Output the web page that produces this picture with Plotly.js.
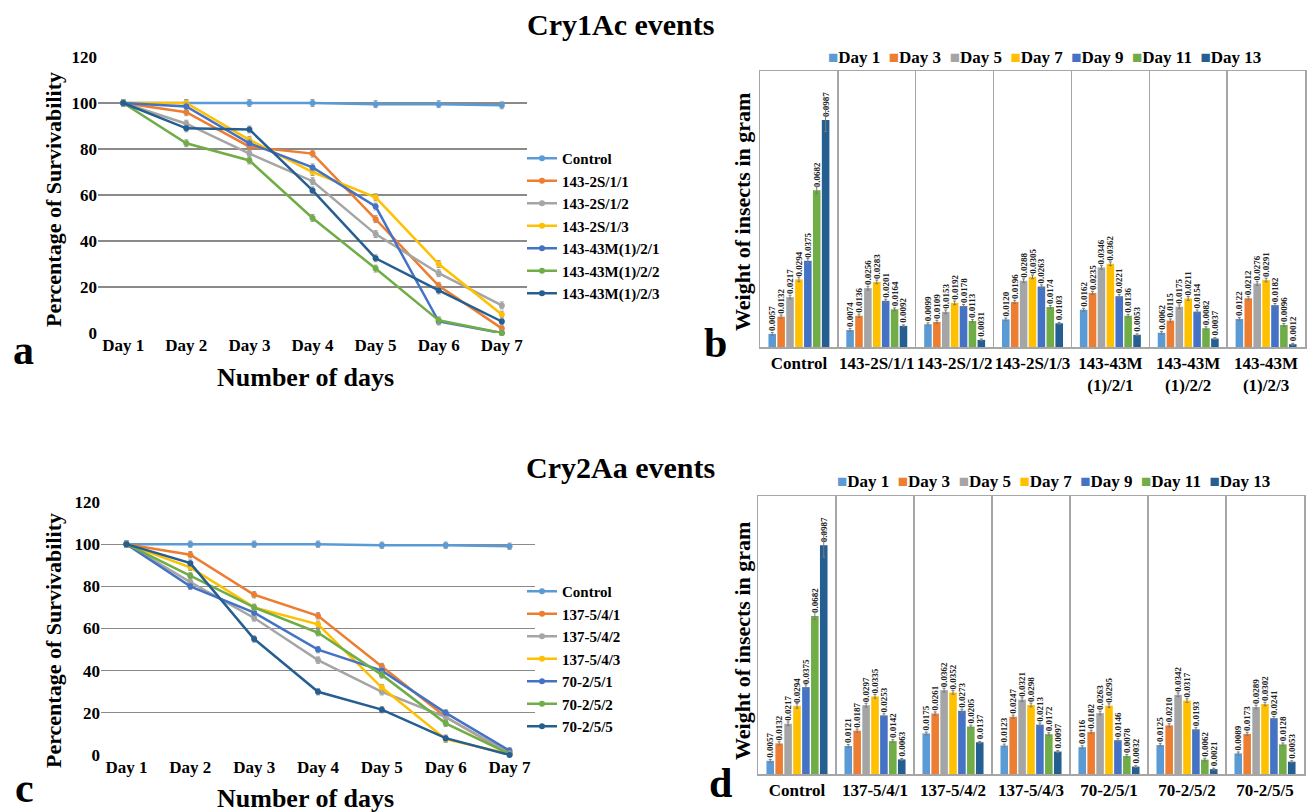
<!DOCTYPE html>
<html>
<head>
<meta charset="utf-8">
<script src="https://cdn.plot.ly/plotly-3.0.1.min.js"></script>
<style>html,body{margin:0;padding:0;background:#fff;overflow:hidden;}#chart{width:1307px;height:812px;}</style>
</head>
<body>
<div id="chart"></div>
<script>
// ---------- Survivability (line charts) ----------
const days = ['Day 1','Day 2','Day 3','Day 4','Day 5','Day 6','Day 7'];

const namesA = ['Control','143-2S/1/1','143-2S/1/2','143-2S/1/3','143-43M(1)/2/1','143-43M(1)/2/2','143-43M(1)/2/3'];
const aControl = [100, 100, 100, 100, 99.5, 99.5, 99];
const a2S_1_1  = [100, 96, 81, 78, 49.5, 20.5, 2];
const a2S_1_2  = [100, 91, 78, 66, 43, 26, 12];
const a2S_1_3  = [100, 100, 84, 70, 59, 30, 8];
const a43M_2_1 = [100, 98.5, 82.5, 72, 55, 5, 0];
const a43M_2_2 = [100, 82.5, 75, 50, 28, 5.5, 0];
const a43M_2_3 = [100, 89, 88.5, 62, 32.5, 18.5, 5];

const namesC = ['Control','137-5/4/1','137-5/4/2','137-5/4/3','70-2/5/1','70-2/5/2','70-2/5/5'];
const cControl = [100, 100, 100, 100, 99.5, 99.5, 99];
const c137_4_1 = [100, 95, 76, 66, 42, 18, 0.5];
const c137_4_2 = [100, 82, 65, 45, 30, 18, 1];
const c137_4_3 = [100, 89, 70, 62, 32, 7.5, 0.5];
const c70_5_1  = [100, 80, 67.5, 50, 40, 20, 2];
const c70_5_2  = [100, 85, 70, 58, 38, 15, 0.5];
const c70_5_5  = [100, 91, 55, 30, 21.5, 8, 0];

// ---------- Insect weight (bar charts) ----------
const dayNames = ['Day 1','Day 3','Day 5','Day 7','Day 9','Day 11','Day 13'];

const groupsB = ['Control','143-2S/1/1','143-2S/1/2','143-2S/1/3','143-43M<br>(1)/2/1','143-43M<br>(1)/2/2','143-43M<br>(1)/2/3'];
const bControl = [0.0057, 0.0132, 0.0217, 0.0294, 0.0375, 0.0682, 0.0987];
const b2S_1_1  = [0.0074, 0.0136, 0.0256, 0.0283, 0.0201, 0.0164, 0.0092];
const b2S_1_2  = [0.0099, 0.0109, 0.0153, 0.0192, 0.0178, 0.0113, 0.0031];
const b2S_1_3  = [0.0120, 0.0196, 0.0288, 0.0305, 0.0263, 0.0174, 0.0103];
const b43M_2_1 = [0.0162, 0.0235, 0.0346, 0.0362, 0.0221, 0.0136, 0.0053];
const b43M_2_2 = [0.0062, 0.0115, 0.0175, 0.0211, 0.0154, 0.0082, 0.0037];
const b43M_2_3 = [0.0122, 0.0212, 0.0276, 0.0291, 0.0182, 0.0096, 0.0012];

const groupsD = ['Control','137-5/4/1','137-5/4/2','137-5/4/3','70-2/5/1','70-2/5/2','70-2/5/5'];
const dControl = [0.0057, 0.0132, 0.0217, 0.0294, 0.0375, 0.0682, 0.0987];
const d137_4_1 = [0.0121, 0.0187, 0.0297, 0.0335, 0.0253, 0.0142, 0.0063];
const d137_4_2 = [0.0175, 0.0261, 0.0362, 0.0352, 0.0273, 0.0205, 0.0137];
const d137_4_3 = [0.0123, 0.0247, 0.0321, 0.0298, 0.0213, 0.0172, 0.0097];
const d70_5_1  = [0.0116, 0.0182, 0.0263, 0.0295, 0.0146, 0.0078, 0.0032];
const d70_5_2  = [0.0125, 0.0210, 0.0342, 0.0317, 0.0193, 0.0062, 0.0021];
const d70_5_5  = [0.0089, 0.0173, 0.0289, 0.0302, 0.0241, 0.0128, 0.0053];

// estimated error bar sizes (per day; control differs from the events)
const errControl = [0.0006, 0.0007, 0.0008, 0.0010, 0.0010, 0.0015, 0.0050];
const errOther   = [0.0006, 0.0007, 0.0008, 0.0008, 0.0007, 0.0006, 0.0004];

const colors = ['#5B9BD5','#ED7D31','#A5A5A5','#FFC000','#4472C4','#70AD47','#255E91'];
const SERIF = 'Liberation Serif, Times New Roman, serif';
const bold = (size, color) => ({family: SERIF, size: size, color: color || '#000', weight: 'bold'});

const traces = [];
function addLines(names, series, xa, ya, leg) {
  series.forEach((ys, i) => {
    traces.push({
      type: 'scatter', mode: 'lines+markers', x: days, y: ys, name: names[i],
      xaxis: xa, yaxis: ya, legend: leg, cliponaxis: false,
      line: {color: colors[i], width: 2.5},
      marker: {color: colors[i], size: 6},
      error_y: {type: 'constant', value: 1.5, color: '#9a9a9a', thickness: 1, width: 2}
    });
  });
}
addLines(namesA, [aControl, a2S_1_1, a2S_1_2, a2S_1_3, a43M_2_1, a43M_2_2, a43M_2_3], 'x', 'y', 'legend');
addLines(namesC, [cControl, c137_4_1, c137_4_2, c137_4_3, c70_5_1, c70_5_2, c70_5_5], 'x3', 'y3', 'legend3');

function addBars(groups, rows, xa, ya) {
  dayNames.forEach((dn, j) => {
    const ys = rows.map(r => r[j]);
    const errs = rows.map((r, k) => k === 0 ? errControl[j] : errOther[j]);
    traces.push({
      type: 'bar', x: groups, y: ys, name: dn, xaxis: xa, yaxis: ya, showlegend: false,
      marker: {color: colors[j]},
      error_y: {type: 'data', array: errs, color: '#7a7a7a', thickness: 1, width: 1.5},
      texttemplate: '%{y:.4f}', textposition: 'outside', textangle: -90,
      textfont: bold(9, '#222'), constraintext: 'none', cliponaxis: false
    });
  });
}
addBars(groupsB, [bControl, b2S_1_1, b2S_1_2, b2S_1_3, b43M_2_1, b43M_2_2, b43M_2_3], 'x2', 'y2');
addBars(groupsD, [dControl, d137_4_1, d137_4_2, d137_4_3, d70_5_1, d70_5_2, d70_5_5], 'x4', 'y4');

const W = 1307, H = 812;
const px = v => v / W, py = v => 1 - v / H;

const lineX = (dom, anchor) => ({
  domain: dom, anchor: anchor, type: 'category', showgrid: false, zeroline: false,
  showline: false, ticks: '', tickfont: bold(17), tickangle: 0, fixedrange: true
});
const lineY = (dom, anchor) => ({
  domain: dom, anchor: anchor, range: [0, 120], dtick: 20, showgrid: true,
  gridcolor: '#8a8a8a', gridwidth: 1.2, zeroline: false, showline: false,
  ticks: '', tickfont: bold(17), fixedrange: true
});
const barX = (dom, anchor) => ({
  domain: dom, anchor: anchor, type: 'category', tickson: 'boundaries',
  showgrid: true, gridcolor: '#a6a6a6', gridwidth: 1.5, showline: true, mirror: true,
  linecolor: '#a6a6a6', linewidth: 1.5, ticks: '', tickangle: 0, tickfont: bold(17), fixedrange: true
});
const barY = (dom, anchor) => ({
  domain: dom, anchor: anchor, range: [0, 0.12], showgrid: false, zeroline: false,
  showticklabels: false, ticks: '', showline: true, mirror: true,
  linecolor: '#a6a6a6', linewidth: 1.5, fixedrange: true
});

const ann = (text, x, y, size, angle) => ({
  text: text, x: x, y: y, xref: 'paper', yref: 'paper', showarrow: false,
  xanchor: 'center', yanchor: 'middle', font: bold(size), textangle: angle || 0
});

// one-row key for the bar charts, built from the day names and colours
const barKey = dayNames.map((dn, j) =>
  '<span style="color:' + colors[j] + '">\u25A0</span>' + dn).join('\u00A0 ');

const lineLegend = (yTop) => ({
  x: px(522), y: py(yTop), xanchor: 'left', yanchor: 'top', font: bold(15),
  bgcolor: 'rgba(0,0,0,0)', itemwidth: 30, tracegroupgap: 0
});

const layout = {
  width: W, height: H, margin: {l: 0, r: 0, t: 0, b: 0, autoexpand: false},
  paper_bgcolor: '#fff', plot_bgcolor: 'rgba(0,0,0,0)',
  barmode: 'group', bargap: 0.2, bargroupgap: 0.15,
  font: {family: SERIF, color: '#000'},
  xaxis:  lineX([px(98), px(527)], 'y'),
  yaxis:  lineY([py(333), py(57)], 'x'),
  xaxis2: barX([px(760), px(1305)], 'y2'),
  yaxis2: barY([py(347), py(71)], 'x2'),
  xaxis3: lineX([px(101), px(535)], 'y3'),
  yaxis3: lineY([py(755), py(502)], 'x3'),
  xaxis4: barX([px(758), px(1304)], 'y4'),
  yaxis4: barY([py(774), py(496)], 'x4'),
  legend:  lineLegend(142),
  legend3: lineLegend(575),
  annotations: [
    ann('Cry1Ac events', px(620), py(25), 30),
    ann('Cry2Aa events', px(620), py(468), 30),
    ann('Percentage of Survivability', px(53), py(200), 22, -90),
    ann('Number of days', px(305), py(378), 26),
    ann('Percentage of Survivability', px(53), py(641), 22, -90),
    ann('Number of days', px(305), py(798), 26),
    ann('Weight of insects in gram', px(742), py(212), 22, -90),
    ann('Weight of insects in gram', px(742), py(641), 22, -90),
    ann(barKey, px(1044), py(58), 17),
    ann(barKey, px(1053), py(481), 17),
    ann('a', px(23), py(350), 42),
    ann('b', px(716), py(343), 42),
    ann('c', px(25), py(788), 42),
    ann('d', px(720), py(783), 42)
  ]
};

Plotly.newPlot('chart', traces, layout, {displayModeBar: false, staticPlot: true});
</script>
</body>
</html>
